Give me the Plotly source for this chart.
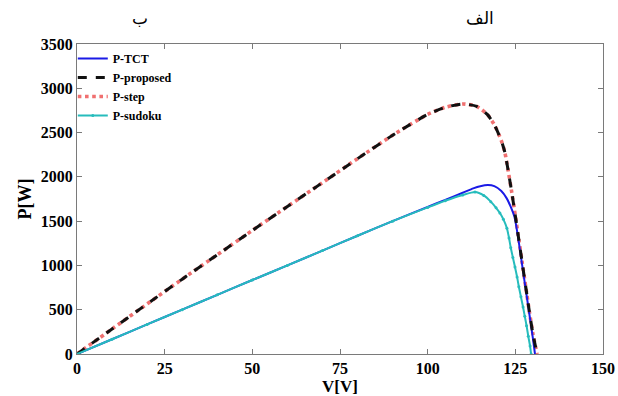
import plotly.graph_objects as go

# ---- data ----
v_tct = [0, 10, 20, 30, 40, 50, 60, 70, 80, 90, 100, 105, 110, 113, 115, 117.2, 119, 121, 122.5, 123.7, 124.8, 126, 127, 128, 129, 130, 130.6]
p_tct = [0, 167, 334, 501, 668, 835, 1000, 1168, 1335, 1500, 1660, 1740, 1820, 1870, 1895, 1908, 1895, 1840, 1760, 1660, 1540, 1260, 990, 720, 450, 180, 0]

v_prop = [0, 10, 20, 30, 40, 50, 60, 70, 80, 90, 100, 105, 110, 114, 117, 119, 121, 122, 123, 124, 125, 126, 127, 128, 129, 130, 131.2]
p_prop = [0, 283, 565, 845, 1120, 1395, 1665, 1935, 2205, 2470, 2705, 2785, 2823, 2795, 2705, 2590, 2410, 2280, 2060, 1820, 1560, 1290, 1020, 750, 480, 230, 0]

v_step = v_prop
p_step = p_prop

v_sud = [0, 10, 20, 30, 40, 50, 60, 70, 80, 90, 100, 105, 110, 113.5, 116, 118, 119.5, 120.6, 121.6, 122.6, 123.2, 123.7, 124.3, 124.9, 125.5, 126, 126.6, 127.2, 127.7, 128.2, 128.7, 129.2, 129.5]
p_sud = [0, 167, 334, 501, 668, 835, 1000, 1168, 1335, 1500, 1655, 1730, 1795, 1829, 1790, 1720, 1650, 1592, 1520, 1420, 1310, 1200, 1090, 982, 870, 760, 645, 530, 425, 320, 200, 90, 0]

x_ticks = [0, 25, 50, 75, 100, 125, 150]
y_ticks = [0, 500, 1000, 1500, 2000, 2500, 3000, 3500]

serif = "Liberation Serif"

fig = go.Figure()
fig.add_trace(go.Scatter(x=v_step, y=p_step, name="P-step", mode="lines",
                         line=dict(color="#f07070", width=3.6, dash="dot", shape="spline", smoothing=0.6),
                         legendrank=3))
fig.add_trace(go.Scatter(x=v_tct, y=p_tct, name="P-TCT", mode="lines",
                         line=dict(color="#1a1ae6", width=2, shape="spline", smoothing=0.6),
                         legendrank=1))
fig.add_trace(go.Scatter(x=v_prop, y=p_prop, name="P-proposed", mode="lines",
                         line=dict(color="#111111", width=3, dash="dash", shape="spline", smoothing=0.6),
                         legendrank=2))
fig.add_trace(go.Scatter(x=v_sud, y=p_sud, name="P-sudoku", mode="lines+markers",
                         line=dict(color="#26bcbc", width=2, shape="spline", smoothing=0.6),
                         marker=dict(size=3, color="#26bcbc"),
                         legendrank=4))

axis_common = dict(showline=True, linecolor="#7a7a7a", linewidth=1.2, mirror="allticks",
                   ticks="inside", ticklen=5, tickcolor="#7a7a7a", showgrid=False,
                   zeroline=False, automargin=False,
                   tickfont=dict(family=serif, size=16, color="black", weight="bold"))

fig.update_xaxes(range=[0, 150], tickvals=x_ticks, ticktext=[str(t) for t in x_ticks],
                 title=dict(text="<b>V[V]</b>", font=dict(family=serif, size=17, color="black"), standoff=0),
                 **axis_common)
fig.update_yaxes(range=[0, 3500], tickvals=y_ticks, ticktext=[str(t) for t in y_ticks],
                 title=dict(text="<b>P[W]</b>", font=dict(family=serif, size=18, color="black"), standoff=4),
                 **axis_common)

L, R, T, B = 77, 15, 44, 42
fig.update_layout(
    width=618, height=396,
    margin=dict(l=L, r=R, t=T, b=B, autoexpand=False),
    plot_bgcolor="white", paper_bgcolor="white",
    showlegend=True,
    legend=dict(x=-0.008, y=1.0, xanchor="left", yanchor="top",
                bgcolor="rgba(0,0,0,0)", font=dict(family=serif, size=12, color="black", weight="bold"),
                itemwidth=30, tracegroupgap=0),
)

pw = 618 - L - R
ph = 396 - T - B
def px2paper(px, py):
    return (px - L) / pw, (396 - B - py) / ph

for txt, px, py in [("ب", 140, 18), ("الف", 480, 18)]:
    ax_, ay_ = px2paper(px, py)
    fig.add_annotation(text=txt, x=ax_, y=ay_, xref="paper", yref="paper", showarrow=False,
                       xanchor="center", yanchor="middle",
                       font=dict(size=17, color="black", family="DejaVu Serif, Noto Sans, serif"))

fig.write_html("out.html", config={"displayModeBar": False},
               post_script="document.body.style.margin='0';document.body.style.overflow='hidden';")
